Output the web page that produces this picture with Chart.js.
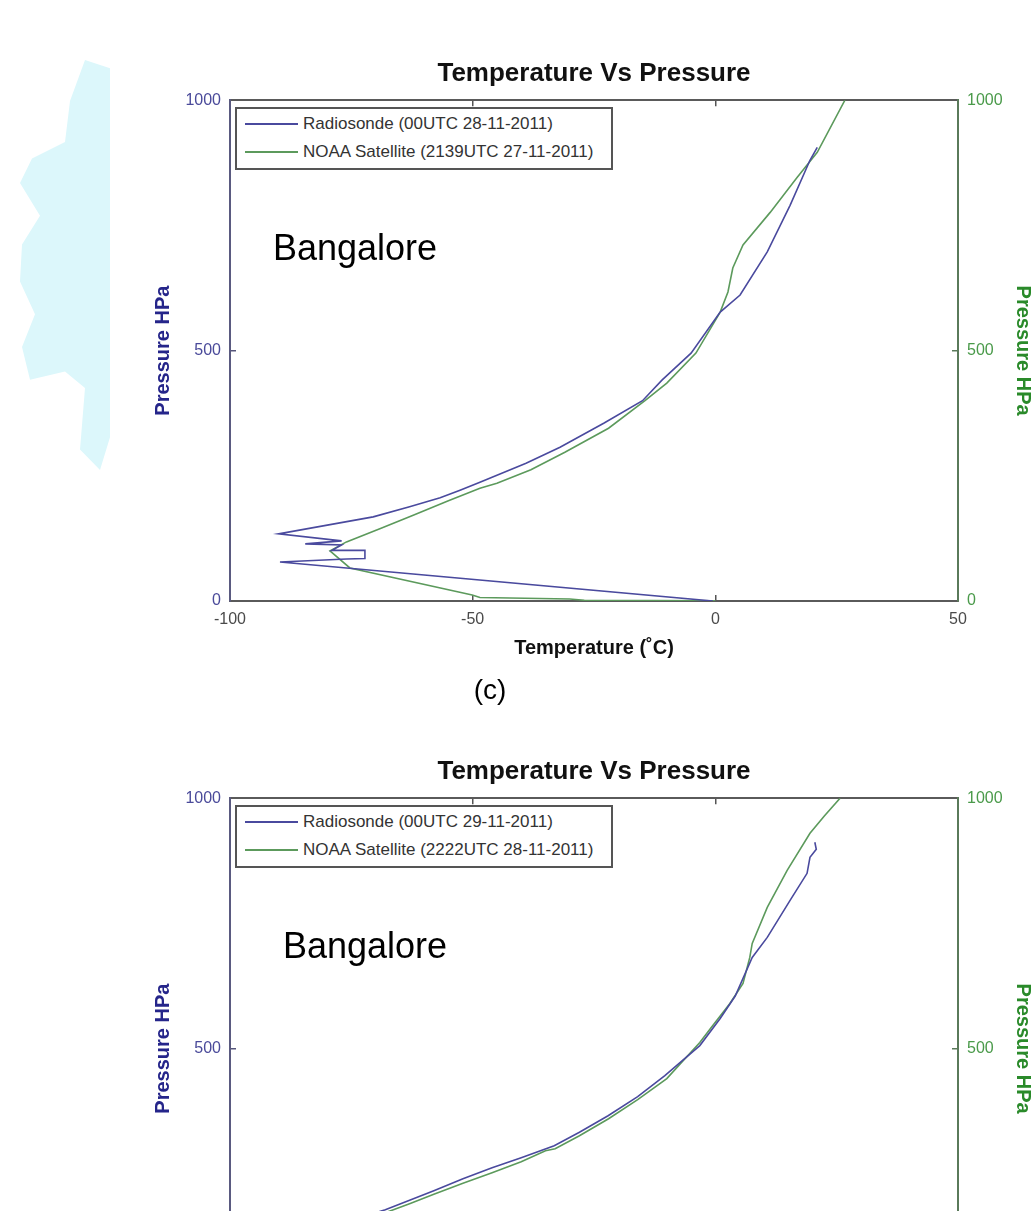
<!DOCTYPE html>
<html lang="en">
<head>
<meta charset="UTF-8">
<title>Temperature Vs Pressure - Bangalore</title>
<script src="https://cdn.jsdelivr.net/npm/chart.js"></script>
<style>
  html, body { margin: 0; padding: 0; background: #fff; }
  body { width: 1035px; height: 1211px; overflow: hidden; position: relative; font-family: "Liberation Sans", Arial, sans-serif; }
  .panel { position: absolute; left: 0; width: 1035px; height: 700px; }
  .panel canvas { position: absolute; left: 0; top: 0; }
  .legend { position: absolute; left: 235px; top: 107px; width: 374px; height: 59px; border: 2px solid #555; background: #fff; }
  .legend .row { position: absolute; left: 8px; height: 20px; display: flex; align-items: center; font-size: 17px; color: #333; white-space: nowrap; }
  .legend .swatch { width: 53px; height: 0; border-top: 2px solid; margin-right: 5px; }
  .place { position: absolute; font-size: 36px; line-height: 36px; color: #000; }
  .tag { position: absolute; left: 440px; top: 673px; width: 100px; text-align: center; font-size: 28px; line-height: 34px; color: #000; }
  /* faint map shape left of the first panel */
  .mapbg { position: absolute; left: 10px; top: 60px; width: 100px; height: 410px; background: #dcf7fb;
           clip-path: polygon(75% 0, 100% 2%, 100% 92%, 90% 100%, 70% 95%, 75% 80%, 55% 76%, 20% 78%, 12% 70%, 25% 62%, 10% 54%, 12% 45%, 30% 38%, 10% 30%, 22% 24%, 55% 20%, 60% 10%); }
</style>
</head>
<body>

<div class="mapbg"></div>

<div class="panel" id="panelC" style="top:0px;">
  <canvas id="chartC" width="1035" height="700"></canvas>
  <div class="legend" id="legendC"></div>
  <div class="place" style="left:273px; top:230px;">Bangalore</div>
</div>
<div class="tag">(c)</div>

<div class="panel" id="panelD" style="top:698px;">
  <canvas id="chartD" width="1035" height="700"></canvas>
  <div class="legend" id="legendD"></div>
  <div class="place" style="left:283px; top:230px;">Bangalore</div>
</div>

<script>
// axis ranges / ticks
const tempTicks = [-100, -50, 0, 50];
const presTicks = [0, 500, 1000];

// panel (c): 28-11-2011
const radLabelC = 'Radiosonde (00UTC 28-11-2011)';
const radTempC = [21.0, 19.5, 15.4, 10.7, 5.1, 1.0, -5.0, -11.0, -15.0, -23.0, -32.0, -39.0, -46.0, -48.5, -52.6, -56.7, -63.0, -70.5, -90.0, -77.0, -84.5, -77.0, -79.0, -72.2, -72.2, -76.0, -89.7, -0.5];
const radPresC = [906, 880, 790, 697, 611, 577, 495, 441, 400, 355, 307, 275, 247, 237, 221, 206, 188, 168, 134, 120, 114, 112, 101, 101, 85, 84, 78, 0];
const satLabelC = 'NOAA Satellite (2139UTC 27-11-2011)';
const satTempC = [26.7, 21.0, 16.8, 11.3, 5.7, 3.6, 2.6, 1.0, -4.0, -10.0, -14.5, -22.0, -31.0, -38.0, -45.0, -48.5, -55.0, -62.0, -69.0, -76.0, -79.4, -75.3, -50.1, -48.5, -30.0, -27.0, 0.0];
const satPresC = [1000, 896, 845, 776, 711, 665, 617, 577, 495, 435, 400, 345, 297, 262, 235, 225, 200, 172, 145, 118, 100, 66, 12, 7, 4, 1.5, 0.5];

// panel (d): 29-11-2011 (lower part cut off)
const radLabelD = 'Radiosonde (00UTC 29-11-2011)';
const radTempD = [20.5, 20.8, 19.5, 18.9, 15.4, 10.7, 7.6, 4.1, 1.0, -3.2, -10.4, -16.0, -22.1, -28.0, -33.2, -40.0, -46.0, -52.0, -58.0, -63.0, -68.0, -72.0];
const radPresD = [912, 898, 882, 850, 796, 722, 682, 605, 560, 506, 446, 404, 366, 333, 306, 282, 262, 240, 216, 197, 178, 166];
const satLabelD = 'NOAA Satellite (2222UTC 28-11-2011)';
const satTempD = [25.7, 22.5, 19.5, 14.8, 10.7, 7.6, 7.1, 5.7, 3.0, -1.0, -3.2, -10.0, -16.0, -22.0, -28.0, -33.0, -35.0, -40.0, -46.0, -52.0, -58.0, -63.0, -68.0, -72.0];
const satPresD = [1000, 965, 930, 856, 782, 710, 682, 630, 590, 540, 512, 440, 398, 360, 326, 300, 296, 274, 252, 231, 209, 190, 172, 160];

const BLUE = '#4a4a9e';
const GREEN = '#5c9a5c';
const FONT = '"Liberation Sans", Arial, sans-serif';

function pairs(xs, ys) {
  return xs.map((x, i) => ({ x: x, y: ys[i] }));
}

const plainLabel = v => String(v);

function buildChart(canvasId, legendId, radT, radP, radLabel, satT, satP, satLabel) {
  const chart = new Chart(document.getElementById(canvasId), {
    type: 'scatter',
    data: {
      datasets: [
        { label: radLabel, data: pairs(radT, radP), showLine: true, borderColor: BLUE, borderWidth: 1.6,
          pointRadius: 0, tension: 0, xAxisID: 'x', yAxisID: 'y' },
        { label: satLabel, data: pairs(satT, satP), showLine: true, borderColor: GREEN, borderWidth: 1.6,
          pointRadius: 0, tension: 0, xAxisID: 'x', yAxisID: 'y2' }
      ]
    },
    options: {
      responsive: false,
      animation: false,
      devicePixelRatio: 1,
      layout: { padding: { left: 147, right: 0, top: 0, bottom: 40 } },
      plugins: {
        legend: { display: false },
        tooltip: { enabled: false },
        title: {
          display: true, text: 'Temperature Vs Pressure', fullSize: false, color: '#111',
          font: { family: FONT, size: 26, weight: 'bold' }, padding: { top: 58, bottom: 11 }
        }
      },
      scales: {
        x: {
          type: 'linear', position: 'bottom', min: tempTicks[0], max: tempTicks[tempTicks.length - 1],
          afterBuildTicks: s => { s.ticks = tempTicks.map(v => ({ value: v })); },
          ticks: { color: '#4a4a4a', padding: 15, font: { family: FONT, size: 16 }, callback: plainLabel },
          grid: { drawOnChartArea: false, tickLength: -6, color: '#555', lineWidth: 1.5 },
          border: { color: '#5a5a5a', width: 2 },
          title: { display: true, text: 'Temperature (˚C)', color: '#111', font: { family: FONT, size: 20, weight: 'bold' }, padding: { top: 0, bottom: 0 } },
          afterFit: s => { s.height = 59; }
        },
        x2: {
          type: 'linear', position: 'top', min: tempTicks[0], max: tempTicks[tempTicks.length - 1],
          afterBuildTicks: s => { s.ticks = tempTicks.map(v => ({ value: v })); },
          ticks: { display: false },
          grid: { drawOnChartArea: false, tickLength: -6, color: '#555', lineWidth: 1.5 },
          border: { color: '#5a5a5a', width: 2 },
          afterFit: s => { s.height = 0; }
        },
        y: {
          type: 'linear', position: 'left', min: presTicks[0], max: presTicks[presTicks.length - 1],
          afterBuildTicks: s => { s.ticks = presTicks.map(v => ({ value: v })); },
          ticks: { color: '#4a4a9a', padding: 15, font: { family: FONT, size: 16 }, callback: plainLabel },
          grid: { drawOnChartArea: false, tickLength: -6, color: '#55557a', lineWidth: 1.5 },
          border: { color: '#5a5a80', width: 2 },
          title: { display: true, text: 'Pressure HPa', color: '#25258a', font: { family: FONT, size: 20, weight: 'bold' }, padding: { top: 4, bottom: 0 } },
          afterFit: s => { s.width = 83; }
        },
        y2: {
          type: 'linear', position: 'right', min: presTicks[0], max: presTicks[presTicks.length - 1],
          afterBuildTicks: s => { s.ticks = presTicks.map(v => ({ value: v })); },
          ticks: { color: '#4a9a4a', padding: 15, font: { family: FONT, size: 16 }, callback: plainLabel },
          grid: { drawOnChartArea: false, tickLength: -6, color: '#5a7a5a', lineWidth: 1.5 },
          border: { color: '#5a7a5a', width: 2 },
          title: { display: true, text: 'Pressure HPa', color: '#2a8a2a', font: { family: FONT, size: 20, weight: 'bold' }, padding: { top: 0, bottom: 0 } },
          afterFit: s => { s.width = 77; }
        }
      }
    }
  });

  // legend box inside the axes, built from the datasets
  const box = document.getElementById(legendId);
  chart.data.datasets.forEach((ds, i) => {
    const row = document.createElement('div');
    row.className = 'row';
    row.style.top = (5 + i * 28) + 'px';
    const sw = document.createElement('span');
    sw.className = 'swatch';
    sw.style.borderTopColor = ds.borderColor;
    const txt = document.createElement('span');
    txt.textContent = ds.label;
    row.appendChild(sw);
    row.appendChild(txt);
    box.appendChild(row);
  });
  return chart;
}

buildChart('chartC', 'legendC', radTempC, radPresC, radLabelC, satTempC, satPresC, satLabelC);
buildChart('chartD', 'legendD', radTempD, radPresD, radLabelD, satTempD, satPresD, satLabelD);
</script>
</body>
</html>
